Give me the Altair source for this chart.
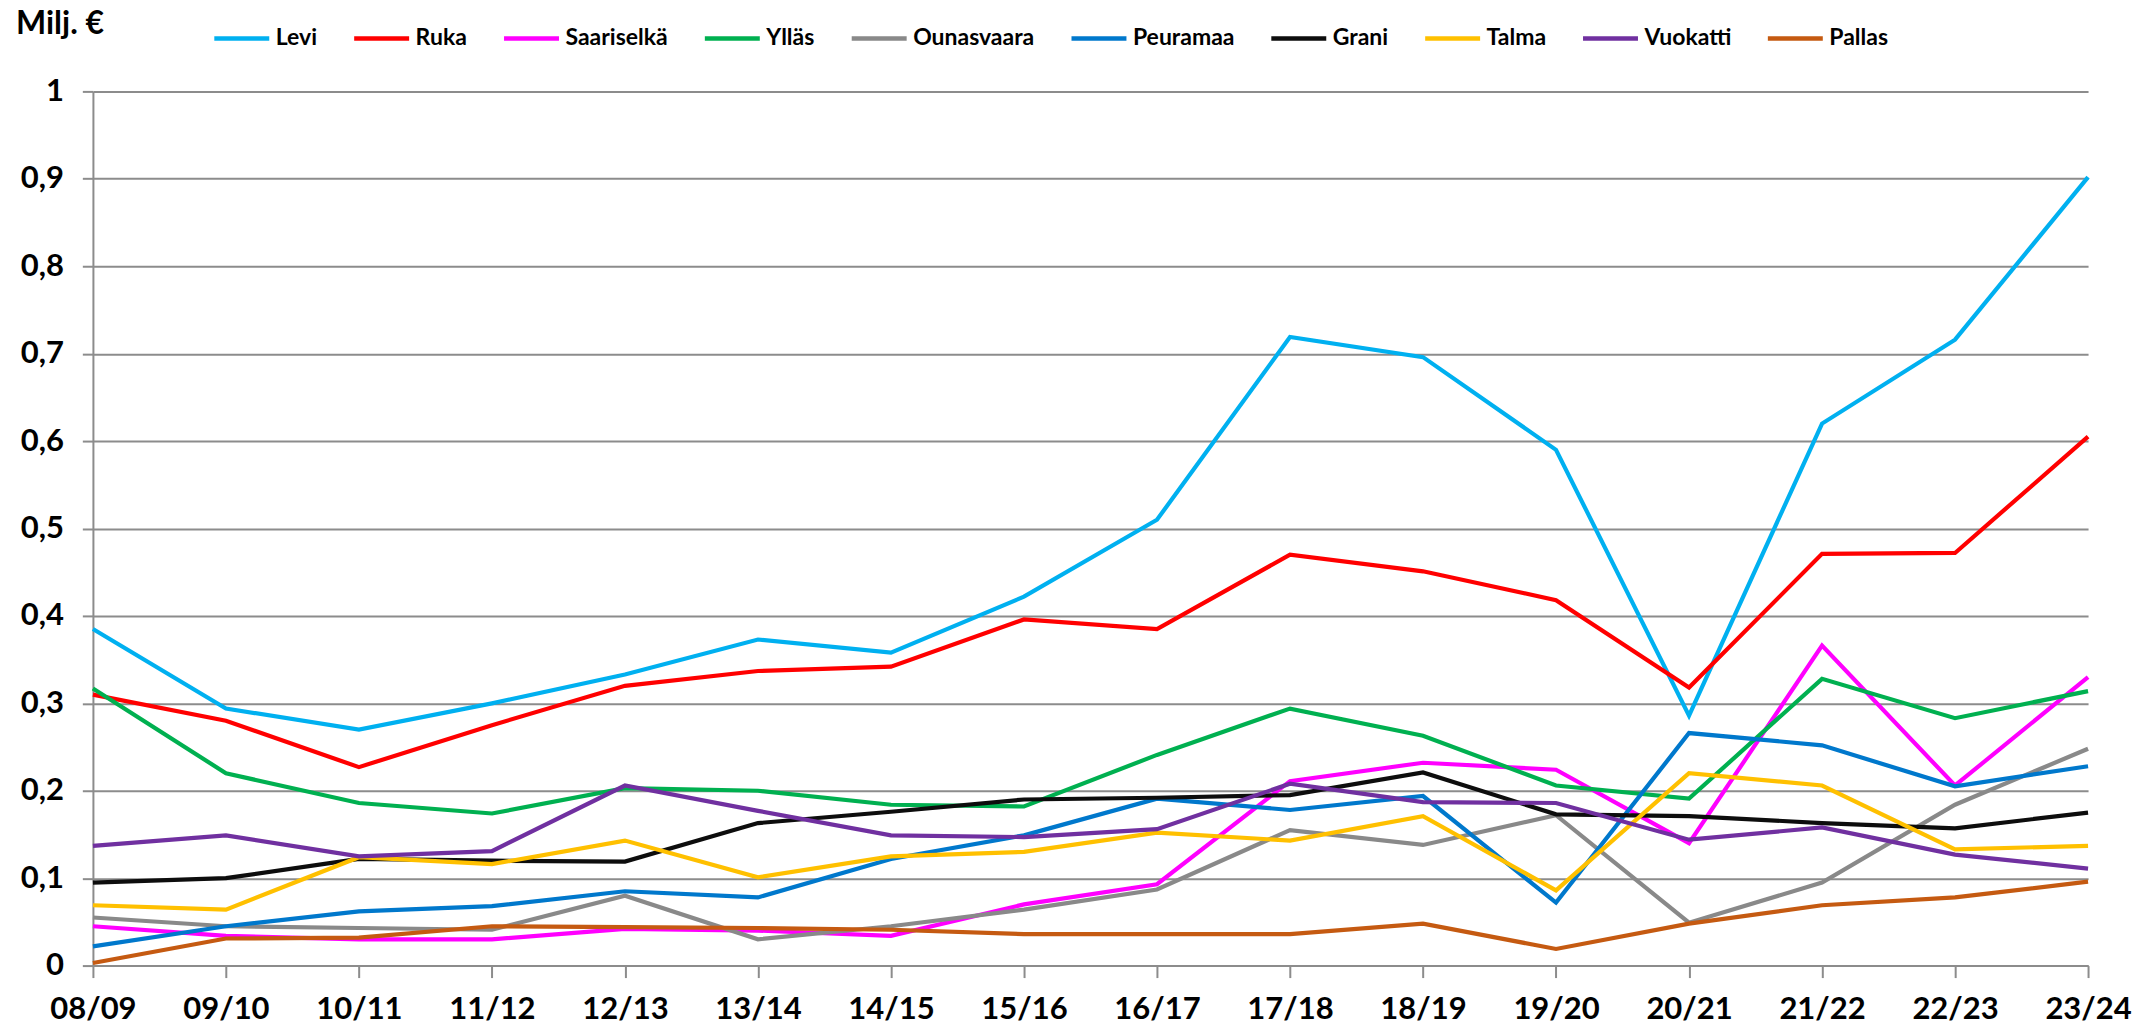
import altair as alt
import pandas as pd

seasons = ["08/09", "09/10", "10/11", "11/12", "12/13", "13/14", "14/15", "15/16",
           "16/17", "17/18", "18/19", "19/20", "20/21", "21/22", "22/23", "23/24"]

levi = [0.385, 0.294, 0.270, 0.300, 0.333, 0.373, 0.358, 0.422, 0.510, 0.719, 0.696, 0.590, 0.286, 0.620, 0.716, 0.902]
ruka = [0.310, 0.280, 0.227, 0.275, 0.320, 0.337, 0.342, 0.396, 0.385, 0.470, 0.451, 0.418, 0.318, 0.471, 0.472, 0.605]
saariselka = [0.045, 0.034, 0.030, 0.030, 0.042, 0.040, 0.034, 0.070, 0.093, 0.211, 0.232, 0.224, 0.140, 0.366, 0.206, 0.330]
yllas = [0.317, 0.220, 0.186, 0.174, 0.203, 0.200, 0.184, 0.182, 0.241, 0.294, 0.263, 0.206, 0.191, 0.328, 0.283, 0.314]
ounasvaara = [0.055, 0.045, 0.043, 0.041, 0.080, 0.030, 0.045, 0.064, 0.087, 0.155, 0.138, 0.172, 0.049, 0.095, 0.184, 0.248]
peuramaa = [0.022, 0.045, 0.062, 0.068, 0.085, 0.078, 0.122, 0.149, 0.191, 0.178, 0.194, 0.072, 0.266, 0.252, 0.205, 0.228]
grani = [0.095, 0.100, 0.122, 0.120, 0.119, 0.163, 0.176, 0.190, 0.192, 0.195, 0.221, 0.173, 0.171, 0.163, 0.157, 0.175]
talma = [0.069, 0.064, 0.124, 0.116, 0.143, 0.101, 0.125, 0.130, 0.152, 0.143, 0.171, 0.086, 0.220, 0.206, 0.133, 0.137]
vuokatti = [0.137, 0.149, 0.125, 0.131, 0.206, 0.177, 0.149, 0.147, 0.156, 0.208, 0.187, 0.186, 0.144, 0.158, 0.127, 0.111]
pallas = [0.003, 0.031, 0.032, 0.045, 0.044, 0.043, 0.041, 0.036, 0.036, 0.036, 0.048, 0.019, 0.048, 0.069, 0.078, 0.096]

names = ["Levi", "Ruka", "Saariselkä", "Ylläs", "Ounasvaara", "Peuramaa", "Grani", "Talma", "Vuokatti", "Pallas"]
series = [levi, ruka, saariselka, yllas, ounasvaara, peuramaa, grani, talma, vuokatti, pallas]
colors = ["#00B0F0", "#FF0000", "#FF00FF", "#00B050", "#898989", "#0078CC", "#0D0D0D", "#FFC000", "#7030A0", "#C55A11"]

y_ticks = [0, 0.1, 0.2, 0.3, 0.4, 0.5, 0.6, 0.7, 0.8, 0.9, 1.0]
unit_label = "Milj. €"

rows = []
for k, (name, vals) in enumerate(zip(names, series)):
    for i, (s, v) in enumerate(zip(seasons, vals)):
        rows.append({"Hiihtokeskus": name, "Kausi": s, "Arvo": v, "o": k})
df = pd.DataFrame(rows)

FONT = "Lato"
GRID = "#8C8C8C"

lines = alt.Chart(df).mark_line(strokeWidth=4.2).encode(
    x=alt.X("Kausi:O", sort=seasons,
            scale=alt.Scale(type="point", padding=0),
            axis=alt.Axis(title=None, labelAngle=0, domain=True, domainColor=GRID, domainWidth=2,
                          ticks=True, tickSize=12, tickColor=GRID, tickWidth=2, grid=False,
                          labelFont=FONT, labelFontSize=31, labelFontWeight="bold", labelColor="black",
                          labelPadding=17, labelOverlap=False, labelFlush=False)),
    y=alt.Y("Arvo:Q", scale=alt.Scale(domain=[0, 1], nice=False, zero=True),
            axis=alt.Axis(title=None, values=y_ticks,
                          labelExpr="replace(format(datum.value, '.1~f'), '.', ',')",
                          grid=True, gridColor=GRID, gridWidth=2,
                          domain=True, domainColor=GRID, domainWidth=2,
                          ticks=True, tickSize=10.6, tickColor=GRID, tickWidth=2,
                          labelFont=FONT, labelFontSize=31, labelFontWeight="bold", labelColor="black",
                          labelPadding=19)),
    color=alt.Color("Hiihtokeskus:N",
                    scale=alt.Scale(domain=names, range=colors),
                    legend=alt.Legend(title=None, orient="none", legendX=119, legendY=-83,
                                      direction="horizontal", symbolType="stroke", symbolSize=3025,
                                      symbolStrokeWidth=4.5, labelFont=FONT, labelFontSize=23,
                                      labelFontWeight="bold", labelColor="black", labelOffset=4,
                                      columnPadding=27, padding=0, labelLimit=300)),
    order=alt.Order("o:Q"),
    detail="Hiihtokeskus:N",
)

title_df = pd.DataFrame({"t": [unit_label]})
title = alt.Chart(title_df).mark_text(align="left", baseline="top", font=FONT, fontSize=32,
                                      fontWeight="bold", color="black").encode(
    x=alt.value(-77), y=alt.value(-82), text="t:N")

chart = alt.layer(lines, title).properties(
    width=1997, height=875,
    autosize=alt.AutoSizeParams(type="none"),
    padding={"left": 85, "top": 83, "right": 55, "bottom": 60},
    background="white",
).configure_view(stroke="transparent")

chart.save("out.html", embed_options={"renderer": "svg", "actions": False})
